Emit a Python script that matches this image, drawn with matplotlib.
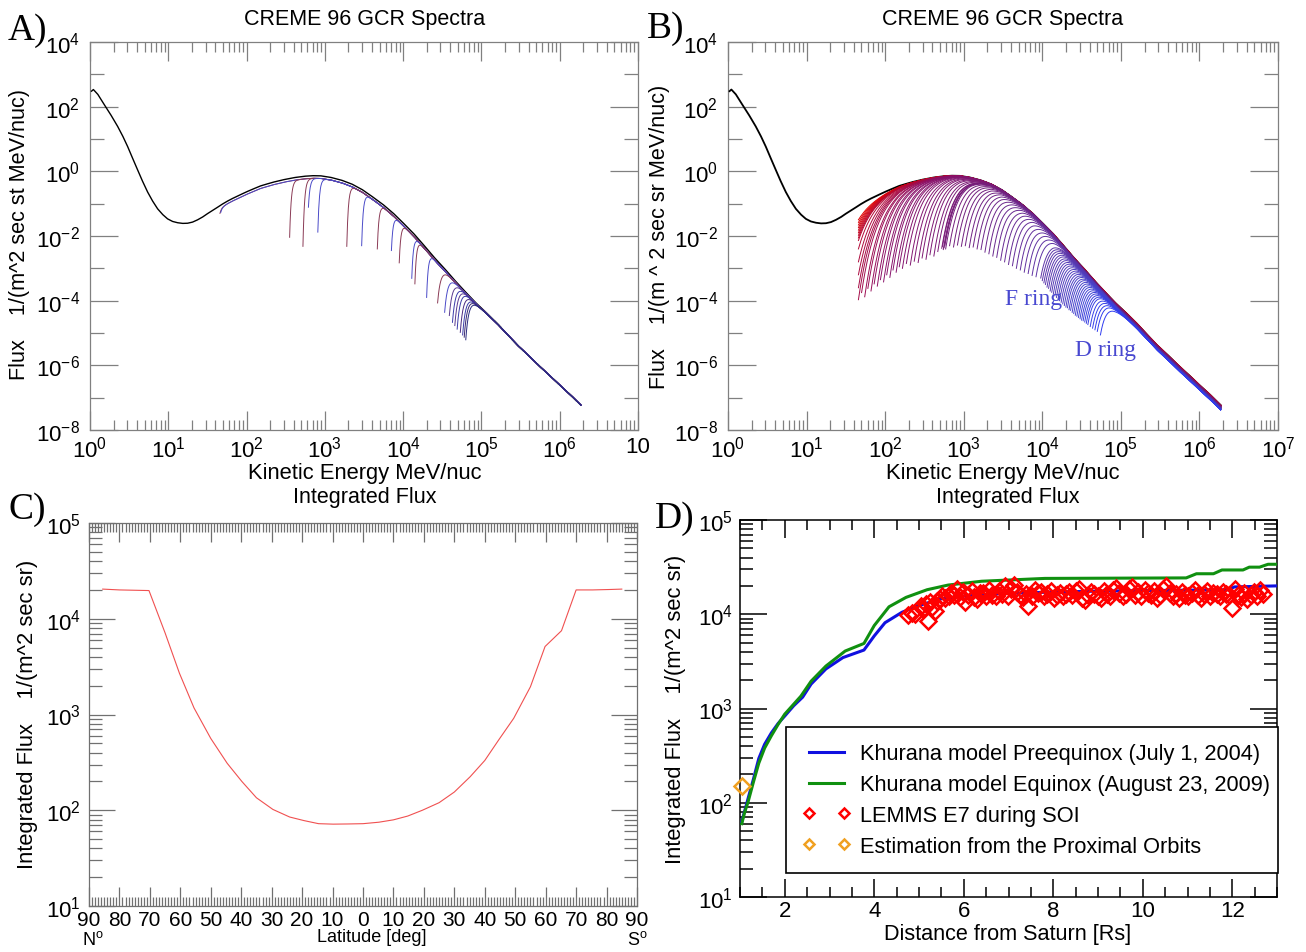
import numpy as np
import matplotlib
matplotlib.use('Agg')
import matplotlib.pyplot as plt
from matplotlib.colors import LinearSegmentedColormap
from matplotlib.ticker import FixedLocator, FixedFormatter, NullFormatter, MultipleLocator, LogLocator, FuncFormatter

plt.rcParams['font.family'] = ['Liberation Sans', 'DejaVu Sans']
plt.rcParams['mathtext.fontset'] = 'custom'
plt.rcParams['mathtext.rm'] = 'Liberation Sans'
plt.rcParams['mathtext.it'] = 'Liberation Sans:italic'

# ---- data ----
# unshielded CREME96 GCR spectrum (log10 MeV/nuc, log10 flux)
gcr_logE = [0.02, 0.043, 0.10, 0.183, 0.27, 0.353, 0.42, 0.481, 0.545, 0.609, 0.67, 0.736, 0.80,
            0.864, 0.93, 0.991, 1.055, 1.12, 1.185, 1.247, 1.31, 1.374, 1.44, 1.50, 1.565, 1.63,
            1.69, 1.757, 1.82, 1.885, 1.95, 2.013, 2.10, 2.18, 2.27, 2.35, 2.48, 2.62, 2.75,
            2.85, 2.95, 3.08, 3.22, 3.35, 3.48, 3.61, 3.75, 3.88, 4.01, 4.14, 4.27, 4.40, 4.54,
            4.67, 4.80, 4.93, 5.07, 5.20, 5.33, 5.46, 5.60, 5.73, 5.87, 6.00, 6.14, 6.27]
gcr_logF = [2.48, 2.53, 2.38, 2.06, 1.73, 1.39, 1.08, 0.765, 0.40, 0.04, -0.30, -0.64, -0.92,
            -1.16, -1.34, -1.47, -1.55, -1.59, -1.61, -1.605, -1.57, -1.50, -1.41, -1.31, -1.21, -1.11,
            -1.015, -0.92, -0.84, -0.765, -0.69, -0.62, -0.53, -0.45, -0.385, -0.33, -0.255, -0.19, -0.15,
            -0.135, -0.14, -0.19, -0.28, -0.40, -0.57, -0.79, -1.04, -1.31, -1.62, -1.94, -2.30, -2.67, -3.04,
            -3.40, -3.74, -4.07, -4.39, -4.70, -5.04, -5.375, -5.69, -6.00, -6.31, -6.61, -6.92, -7.23]

# panel A: shielded spectra, cutoff energy and lowest flux (log10)
cut_a_logE = [1.66, 1.67, 2.55, 2.72, 2.79, 2.91, 3.28, 3.47, 3.67, 3.85, 3.95, 4.11, 4.15,
              4.30, 4.44, 4.53, 4.59, 4.63, 4.66, 4.69, 4.73, 4.76, 4.78, 4.80]
cut_a_low = [-1.30, -1.27, -2.04, -2.32, -1.11, -1.88, -2.32, -2.30, -2.40, -2.45, -2.83, -3.31, -3.48,
             -3.90, -4.07, -4.36, -4.46, -4.67, -4.77, -4.88, -4.98, -5.06, -5.13, -5.21]

# panel B: shielded spectra behind the rings
cut_b_logE = [1.66, 1.66, 1.66, 1.66, 1.66, 1.66, 1.66, 1.66, 1.66,
              1.66, 1.66, 1.66, 1.66, 1.66,
              1.70, 1.74, 1.78, 1.82, 1.86, 1.90, 1.94, 1.98, 2.02, 2.06, 2.10, 2.14,
              2.18, 2.22, 2.27, 2.32, 2.37, 2.42, 2.47, 2.52, 2.57, 2.62, 2.67,
              2.72, 2.73, 2.74, 2.75, 2.76, 2.77,
              2.82, 2.87, 2.92, 2.97, 3.02, 3.07, 3.12, 3.17, 3.22, 3.27, 3.32, 3.37,
              3.42, 3.47, 3.52, 3.57, 3.62, 3.67, 3.72, 3.77, 3.82, 3.87, 3.92,
              3.98, 4.00, 4.02, 4.04, 4.06, 4.08, 4.10, 4.12, 4.14, 4.16, 4.18, 4.20,
              4.22, 4.24, 4.26, 4.28, 4.30, 4.32, 4.34, 4.36, 4.38, 4.40, 4.42, 4.44,
              4.46, 4.48, 4.50, 4.52, 4.54, 4.56, 4.58, 4.61, 4.64, 4.67, 4.70, 4.74]
cut_b_low = [-1.50, -1.58, -1.66, -1.74, -1.82, -1.90, -1.98, -2.06, -2.14,
             -2.40, -2.80, -3.20, -3.60, -3.97,
             -3.75, -3.88, -3.62, -3.70, -3.48, -3.55, -3.35, -3.42, -3.20, -3.28, -3.05, -3.12,
             -2.95, -3.00, -2.85, -2.90, -2.78, -2.82, -2.68, -2.72, -2.58, -2.62, -2.48,
             -2.38, -2.32, -2.42, -2.36, -2.30, -2.40,
             -2.30, -2.34, -2.28, -2.32, -2.30, -2.36, -2.34, -2.40, -2.42, -2.50, -2.55, -2.62,
             -2.66, -2.75, -2.80, -2.88, -2.92, -3.00, -3.05, -3.12, -3.16, -3.22, -3.26,
             -3.30, -3.38, -3.45, -3.50, -3.58, -3.62, -3.70, -3.74, -3.80, -3.85, -3.90, -3.95,
             -4.00, -4.05, -4.10, -4.15, -4.20, -4.22, -4.28, -4.30, -4.36, -4.40, -4.45, -4.48,
             -4.52, -4.56, -4.60, -4.62, -4.66, -4.70, -4.74, -4.80, -4.85, -4.90, -4.95, -5.06]

# panel C: integrated flux vs latitude (N negative, S positive)
lat_c = [-85.5, -80, -70.3, -65, -60.3, -55.5, -50, -44.6, -39.8, -35, -29.6, -24.1, -19.4,
         -14.6, -9.8, -5, 0, 5.2, 10, 14.7, 19.5, 25, 30, 35.2, 40, 44.7, 49.5, 55, 59.8,
         65.2, 70, 75.4, 80.9, 85]
flux_c = [2.04e4, 2.0e4, 1.97e4, 7.1e3, 2.7e3, 1.17e3, 562, 309, 200, 135, 102, 85, 78,
          72.4, 71.6, 71.9, 72.4, 75, 79.4, 87, 100, 120, 155, 224, 331, 550, 912, 1950, 5130,
          7500, 2.0e4, 2.0e4, 2.02e4, 2.04e4]

# panel D: integrated flux vs distance
dist_pre = [1.04, 1.20, 1.30, 1.42, 1.55, 1.70, 1.85, 2.00, 2.20, 2.40, 2.59, 2.92, 3.30, 3.77,
            4.00, 4.24, 4.62, 4.99, 5.46, 5.93, 6.87, 8.0, 9.0, 10.0, 11.0, 11.9, 12.05, 13.0]
flux_pre = [63, 120, 178, 295, 417, 550, 692, 832, 1070, 1320, 1820, 2630, 3470, 4170,
            5890, 8130, 1.05e4, 1.23e4, 1.45e4, 1.55e4, 1.66e4, 1.72e4, 1.76e4, 1.78e4, 1.80e4,
            1.82e4, 1.95e4, 2.0e4]
dist_equ = [1.04, 1.10, 1.18, 1.30, 1.42, 1.55, 1.70, 1.85, 2.00, 2.36, 2.59, 2.92, 3.35, 3.77,
            4.00, 4.33, 4.71, 5.18, 5.65, 6.40, 7.81, 10.97, 11.2, 11.58, 11.77, 12.24, 12.38,
            12.61, 12.80, 13.0]
flux_equ = [60, 78, 102, 166, 263, 380, 513, 676, 871, 1350, 1950, 2820, 4070, 4900,
            7590, 1.2e4, 1.51e4, 1.82e4, 2.04e4, 2.24e4, 2.4e4, 2.43e4, 2.69e4, 2.69e4, 2.95e4,
            2.95e4, 3.16e4, 3.16e4, 3.39e4, 3.39e4]
dist_lemms = [4.76, 4.85, 4.91, 5.04, 5.10, 5.16, 5.21, 5.25, 5.30, 5.36, 5.40, 5.46, 5.51, 5.58,
              5.66, 5.72, 5.79, 5.84, 5.92, 5.98, 6.03, 6.10, 6.18, 6.24, 6.29, 6.36, 6.44, 6.50,
              6.57, 6.64, 6.71, 6.78, 6.85, 6.92, 6.98, 7.05, 7.12, 7.19, 7.26, 7.33, 7.40, 7.44,
              7.52, 7.59, 7.66, 7.73, 7.80, 7.87, 7.94, 8.01, 8.08, 8.15, 8.22, 8.29, 8.36, 8.43,
              8.50, 8.57, 8.64, 8.71, 8.78, 8.85, 8.92, 8.99, 9.06, 9.13, 9.20, 9.27, 9.34, 9.41,
              9.48, 9.55, 9.62, 9.69, 9.76, 9.83, 9.90, 9.97, 10.04, 10.11, 10.18, 10.25, 10.32,
              10.39, 10.46, 10.53, 10.60, 10.67, 10.74, 10.81, 10.88, 10.95, 11.02, 11.09, 11.16,
              11.23, 11.30, 11.37, 11.44, 11.51, 11.58, 11.65, 11.72, 11.79, 11.86, 11.93, 11.99,
              12.06, 12.13, 12.20, 12.27, 12.34, 12.41, 12.48, 12.55, 12.62, 12.68]
flux_lemms = [0.98, 1.02, 1.00, 1.23, 1.15, 1.30, 0.85, 1.35, 1.20, 1.07, 1.38, 1.45, 1.55, 1.48,
              1.58, 1.70, 1.62, 1.86, 1.51, 1.72, 1.35, 1.60, 1.78, 1.52, 1.45, 1.68, 1.70, 1.58,
              1.82, 1.62, 1.55, 1.75, 1.66, 2.00, 1.58, 1.85, 2.05, 1.72, 1.60, 1.52, 1.64, 1.23,
              1.58, 1.80, 1.68, 1.74, 1.56, 1.66, 1.78, 1.48, 1.62, 1.70, 1.55, 1.66, 1.72, 1.60,
              1.78, 1.85, 1.50, 1.42, 1.60, 1.72, 1.66, 1.58, 1.48, 1.76, 1.64, 1.55, 1.82, 1.92,
              1.70, 1.58, 1.66, 1.85, 1.95, 1.62, 1.72, 1.55, 1.80, 1.68, 1.60, 1.75, 1.50, 1.62,
              1.85, 2.00, 1.70, 1.58, 1.66, 1.48, 1.74, 1.62, 1.56, 1.70, 1.82, 1.60, 1.50, 1.66,
              1.78, 1.58, 1.70, 1.64, 1.55, 1.72, 1.66, 1.60, 1.17, 1.85, 1.62, 1.52, 1.70, 1.46,
              1.60, 1.74, 1.56, 1.80, 1.66]
dist_prox = [1.05]
flux_prox = [150]

W, H = 1306, 953
fig = plt.figure(figsize=(W / 100, H / 100), dpi=100)


def ax_at(x0, y0, x1, y1):
    return fig.add_axes([x0 / W, 1 - y1 / H, (x1 - x0) / W, (y1 - y0) / H])


def ftext(x, y, s, **kw):
    fig.text(x / W, 1 - y / H, s, **kw)


def pow_label(k):
    return r'$\mathregular{10^{%d}}$' % k


main_E = 10 ** np.array(gcr_logE)
main_F = 10 ** np.array(gcr_logF)


def shielded(ec, low, w, off_fn):
    le = np.linspace(ec, gcr_logE[-1], 600)
    base = np.interp(le, gcr_logE, gcr_logF) + off_fn(le)
    d = np.interp(ec, gcr_logE, gcr_logF) + off_fn(np.array([ec]))[0] - low
    lf = base - d * np.exp(-(le - ec) / w)
    return 10 ** le, 10 ** lf


def spectra_axes(ax, gray):
    ax.set_xscale('log')
    ax.set_yscale('log')
    ax.set_xlim(1, 1e7)
    ax.set_ylim(1e-8, 1e4)
    ax.xaxis.set_major_locator(FixedLocator(10.0 ** np.arange(0, 8)))
    ax.xaxis.set_minor_locator(FixedLocator([m * 10.0 ** k for k in range(7) for m in range(2, 10)]))
    ax.yaxis.set_major_locator(FixedLocator(10.0 ** np.arange(-8, 5, 2)))
    ax.yaxis.set_minor_locator(FixedLocator(10.0 ** np.arange(-7, 4, 2)))
    ax.xaxis.set_minor_formatter(NullFormatter())
    ax.yaxis.set_minor_formatter(NullFormatter())
    ax.yaxis.set_major_formatter(FixedFormatter([pow_label(k) for k in range(-8, 5, 2)]))
    ax.tick_params(which='both', direction='in', top=True, right=True, color=gray, width=0.9,
                   labelsize=16, pad=7)
    ax.tick_params(axis='x', which='major', length=13.5, pad=4)
    ax.tick_params(axis='x', which='minor', length=7)
    ax.tick_params(axis='y', which='major', length=20)
    ax.tick_params(axis='y', which='minor', length=10)
    for s in ax.spines.values():
        s.set_color(gray)
        s.set_linewidth(0.9)


# ---- panel A ----
axA = ax_at(90, 43, 638, 431)
spectra_axes(axA, '#808080')
axA.xaxis.set_major_formatter(FixedFormatter([pow_label(k) for k in range(7)] + ['10']))
axA.plot(main_E, main_F, color='black', lw=1.0, zorder=3)
a_colors = ['#8a3a55', '#4a4ac8', '#8a3a55', '#8a3a55', '#4a4ac8', '#4a4ac8', '#8a3a55',
            '#4a4ac8', '#8a3a55', '#4a4ac8', '#8a3a55', '#4a4ac8', '#8a3a55', '#4a4ac8',
            '#8a3a55', '#4a4ac8', '#5a3a90', '#3a3aa8', '#5a3a90', '#3a3aa8', '#4a2a80',
            '#3a3aa8', '#3a2a70', '#2a2a80']
off_a = lambda le: -0.08 * np.clip((5.3 - le) / 1.0, 0, 1)
for ec, low, col in zip(cut_a_logE, cut_a_low, a_colors):
    w = 0.02 if ec < 4.4 else 0.04
    e, f = shielded(ec, low, w, off_a)
    axA.plot(e, f, color=col, lw=0.7, zorder=4)

# ---- panel B ----
axB = ax_at(728, 43, 1278, 431)
spectra_axes(axB, '#808080')
axB.xaxis.set_major_formatter(FixedFormatter([pow_label(k) for k in range(8)]))
axB.plot(main_E, main_F, color='black', lw=1.3, zorder=3)
cmap = LinearSegmentedColormap.from_list('ring', [(0, '#e00000'), (0.09, '#b00838'),
                                                   (0.2, '#8a1068'), (0.45, '#72207e'),
                                                   (0.7, '#5838b0'), (0.88, '#4444d0'),
                                                   (1, '#2f3cf0')])
nb = len(cut_b_logE)
for i, (ec, low) in enumerate(zip(cut_b_logE, cut_b_low)):
    t = i / (nb - 1)
    w = 0.08 + 0.035 * (4.8 - ec)
    off_b = lambda le, t=t: -0.15 * t * np.clip((le - 3.5) / 1.5, 0, 1)
    e, f = shielded(ec, low, w, off_b)
    axB.plot(e, f, color=cmap(t), lw=0.7, zorder=4)

ftext(1005, 305, 'F ring', family='Liberation Serif', fontsize=17, color='#4848d0')
ftext(1075, 356, 'D ring', family='Liberation Serif', fontsize=17, color='#4848d0')

# ---- panel C ----
axC = ax_at(89, 524, 637, 907)
axC.set_yscale('log')
axC.set_xlim(-90, 90)
axC.set_ylim(10, 1e5)
axC.plot(lat_c, flux_c, color='#f05050', lw=0.8)
axC.xaxis.set_major_locator(MultipleLocator(10))
axC.xaxis.set_minor_locator(MultipleLocator(1))
axC.xaxis.set_major_formatter(FuncFormatter(lambda v, p: '%d' % abs(round(v))))
axC.yaxis.set_major_locator(FixedLocator(10.0 ** np.arange(1, 6)))
axC.yaxis.set_major_formatter(FixedFormatter([pow_label(k) for k in range(1, 6)]))
axC.yaxis.set_minor_locator(LogLocator(base=10, subs=np.arange(2, 10)))
axC.yaxis.set_minor_formatter(NullFormatter())
axC.tick_params(which='both', direction='in', top=True, right=True, color='#707070', width=0.9)
axC.tick_params(axis='x', which='major', length=13.5, labelsize=15, pad=3)
axC.tick_params(axis='x', which='minor', length=6.5)
axC.tick_params(axis='y', which='major', length=19, labelsize=16, pad=6)
axC.tick_params(axis='y', which='minor', length=9.5)
for s in axC.spines.values():
    s.set_color('#707070')
    s.set_linewidth(0.9)

# ---- panel D ----
axD = ax_at(740, 521, 1277, 898)
axD.set_yscale('log')
axD.set_xlim(1, 13)
axD.set_ylim(10, 1e5)
axD.plot(dist_pre, flux_pre, color='#1010e0', lw=2.2, zorder=3,
         label='Khurana model Preequinox (July 1, 2004)')
axD.plot(dist_equ, flux_equ, color='#109010', lw=2.2, zorder=3,
         label='Khurana model Equinox (August 23, 2009)')
axD.plot(dist_lemms, np.array(flux_lemms) * 1e4, ls='none', marker='D', ms=8, mfc='none',
         mec='#ff0000', mew=1.8, zorder=4, label='LEMMS E7 during SOI')
axD.plot(dist_prox, flux_prox, ls='none', marker='D', ms=8, mfc='none', mec='#f0a020',
         mew=1.8, zorder=4, clip_on=False, label='Estimation from the Proximal Orbits')
axD.xaxis.set_major_locator(FixedLocator([2, 4, 6, 8, 10, 12]))
axD.xaxis.set_minor_locator(MultipleLocator(0.5))
axD.yaxis.set_major_locator(FixedLocator(10.0 ** np.arange(1, 6)))
axD.yaxis.set_major_formatter(FixedFormatter([pow_label(k) for k in range(1, 6)]))
axD.yaxis.set_minor_locator(LogLocator(base=10, subs=np.arange(2, 10)))
axD.yaxis.set_minor_formatter(NullFormatter())
axD.tick_params(which='both', direction='in', top=True, right=True, color='black', width=1.1,
                labelsize=16)
axD.tick_params(axis='x', which='major', length=13, pad=2)
axD.tick_params(axis='x', which='minor', length=7)
axD.tick_params(axis='y', which='major', length=19.5, pad=5)
axD.tick_params(axis='y', which='minor', length=9.5)
for s in axD.spines.values():
    s.set_linewidth(1.1)
leg = axD.legend(loc='upper left', bbox_to_anchor=(0.0857, 0.082, 0.916, 0.369), mode='expand',
                 fontsize=15.7, frameon=True, fancybox=False, framealpha=1, edgecolor='black',
                 borderaxespad=0, borderpad=0.75, labelspacing=0.45, handlelength=2.2,
                 handletextpad=0.45, numpoints=2, markerscale=0.7)
leg.get_frame().set_linewidth(1.2)

# ---- titles, labels, panel letters ----
ftext(365, 20, 'CREME 96 GCR Spectra', fontsize=15.5, ha='center', va='center')
ftext(1003, 20, 'CREME 96 GCR Spectra', fontsize=15.5, ha='center', va='center')
ftext(365, 498, 'Integrated Flux', fontsize=15.5, ha='center', va='center')
ftext(1008, 498, 'Integrated Flux', fontsize=15.5, ha='center', va='center')
ftext(365, 473, 'Kinetic Energy MeV/nuc', fontsize=15.8, ha='center', va='center')
ftext(1003, 473, 'Kinetic Energy MeV/nuc', fontsize=15.8, ha='center', va='center')
ftext(372, 938, 'Latitude [deg]', fontsize=13, ha='center', va='center')
ftext(1008, 935, 'Distance from Saturn [Rs]', fontsize=15.6, ha='center', va='center')
ftext(93, 940, r'N$^\mathregular{o}$', fontsize=13, ha='center', va='center')
ftext(637, 940, r'S$^\mathregular{o}$', fontsize=13, ha='center', va='center')
ftext(20, 235, 'Flux    1/(m^2 sec st MeV/nuc)', fontsize=15.6, rotation=90, ha='center', va='center')
ftext(660, 237, 'Flux    1/(m ^ 2 sec sr MeV/nuc)', fontsize=15.6, rotation=90, ha='center', va='center')
ftext(28, 714, 'Integrated Flux    1/(m^2 sec sr)', fontsize=15.8, rotation=90, ha='center', va='center')
ftext(676, 709, 'Integrated Flux    1/(m^2 sec sr)', fontsize=15.8, rotation=90, ha='center', va='center')
for x, y, s in [(8, 40, 'A)'), (647, 38, 'B)'), (8, 519, 'C)'), (655, 528, 'D)')]:
    ftext(x, y, s, family='Liberation Serif', fontsize=27, ha='left', va='baseline')

fig.savefig('out.png', dpi=100)
